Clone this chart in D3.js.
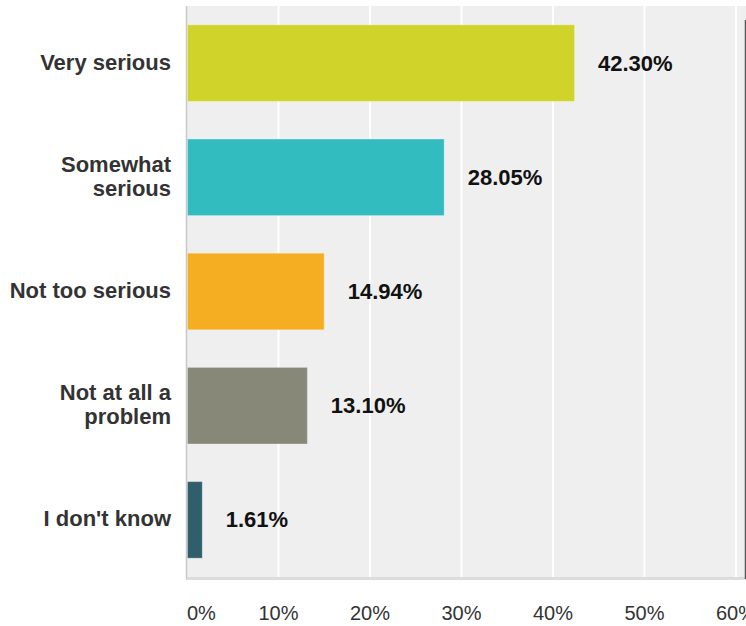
<!DOCTYPE html>
<html>
<head>
<meta charset="utf-8">
<script src="https://cdn.jsdelivr.net/npm/d3@7"></script>
<style>
    body { margin: 0; background: #fff; }
    text { font-family: "Liberation Sans", Arial, sans-serif; }
</style>
</head>
<body>
<script>
"use strict";

let categories = [["Very serious"], ["Somewhat", "serious"], ["Not too serious"], ["Not at all a", "problem"], ["I don't know"]];
let values = [42.30, 28.05, 14.94, 13.10, 1.61];
let colors = ["#d0d32a", "#32bcbf", "#f5ae22", "#878878", "#2e5f6b"];
let ticks = [0, 10, 20, 30, 40, 50, 60];

let width = 746,
    height = 626,
    plotLeft = 187,
    plotTop = 6,
    plotBottom = 577;

let svg = d3.select("body")
    .append("svg")
    .attr("width", width)
    .attr("height", height);

let x = d3.scaleLinear()
    .domain([0, 60])
    .range([plotLeft, plotLeft + 549]);

let y = d3.scaleBand()
    .domain(d3.range(values.length))
    .range([plotTop, plotBottom])
    .paddingInner(0.33)
    .paddingOuter(0.165);

// plot background
svg.append("rect")
    .attr("x", plotLeft)
    .attr("y", plotTop)
    .attr("width", width - plotLeft)
    .attr("height", plotBottom - plotTop)
    .attr("fill", "#efefef");

// grid lines
svg.selectAll("line.grid")
    .data(ticks.slice(1))
    .enter().append("line")
    .attr("class", "grid")
    .attr("x1", d => x(d))
    .attr("x2", d => x(d))
    .attr("y1", plotTop)
    .attr("y2", plotBottom)
    .attr("stroke", "#fff")
    .attr("stroke-width", 2);

// bottom edge
svg.append("rect")
    .attr("x", plotLeft - 1)
    .attr("y", plotBottom)
    .attr("width", width - plotLeft + 1)
    .attr("height", 3)
    .attr("fill", "#dcdcdc");

// left axis line
svg.append("line")
    .attr("x1", plotLeft - 0.5)
    .attr("x2", plotLeft - 0.5)
    .attr("y1", plotTop)
    .attr("y2", plotBottom + 2)
    .attr("stroke", "#c8c8c8")
    .attr("stroke-width", 1.5);

// right border
svg.append("line")
    .attr("x1", 745.5)
    .attr("x2", 745.5)
    .attr("y1", 20)
    .attr("y2", plotBottom + 2)
    .attr("stroke", "#555")
    .attr("stroke-width", 1.5);

// bars
svg.selectAll("rect.bar")
    .data(values)
    .enter().append("rect")
    .attr("class", "bar")
    .attr("x", x(0) + 0.5)
    .attr("y", (d, i) => y(i))
    .attr("width", d => x(d) - x(0))
    .attr("height", y.bandwidth())
    .attr("fill", (d, i) => colors[i])
    .attr("stroke", "rgba(255,255,255,0.25)")
    .attr("stroke-width", 1);

// value labels
svg.selectAll("text.value")
    .data(values)
    .enter().append("text")
    .attr("class", "value")
    .attr("x", d => x(d) + 24)
    .attr("y", (d, i) => y(i) + y.bandwidth() / 2 + 7.5)
    .attr("font-size", 22)
    .attr("font-weight", "bold")
    .attr("fill", "#111")
    .text(d => d.toFixed(2) + "%");

// category labels
let cat = svg.selectAll("text.cat")
    .data(categories)
    .enter().append("text")
    .attr("class", "cat")
    .attr("text-anchor", "end")
    .attr("font-size", 22)
    .attr("font-weight", "bold")
    .attr("fill", "#333");

cat.each(function (lines, i) {
    let cy = y(i) + y.bandwidth() / 2;
    d3.select(this).selectAll("tspan")
        .data(lines)
        .enter().append("tspan")
        .attr("x", 171)
        .attr("y", (l, j) => cy + 6.5 + (j - (lines.length - 1) / 2) * 24.4)
        .text(l => l);
});

// tick labels
svg.selectAll("text.tick")
    .data(ticks)
    .enter().append("text")
    .attr("class", "tick")
    .attr("x", d => x(d))
    .attr("y", 620)
    .attr("text-anchor", d => d === 0 ? "start" : "middle")
    .attr("font-size", 20)
    .attr("fill", "#333")
    .text(d => d + "%");
</script>
</body>
</html>
